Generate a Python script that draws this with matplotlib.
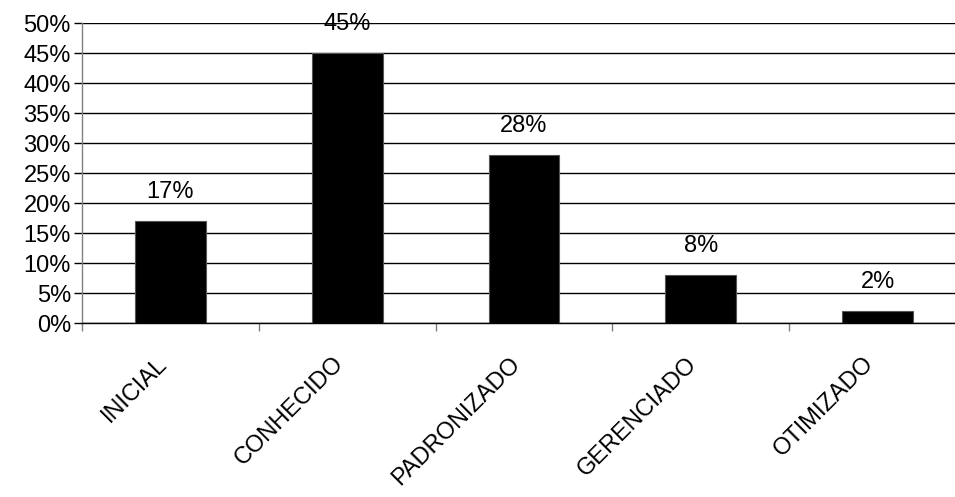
import matplotlib
matplotlib.use("Agg")
import matplotlib.pyplot as plt
from matplotlib.ticker import MultipleLocator, FuncFormatter

categories = ["INICIAL", "CONHECIDO", "PADRONIZADO", "GERENCIADO", "OTIMIZADO"]
values = [17, 45, 28, 8, 2]
value_labels = ["17%", "45%", "28%", "8%", "2%"]

plt.rcParams['font.family'] = ['Liberation Sans', 'DejaVu Sans']

W, H = 955, 497
fig = plt.figure(figsize=(W / 100, H / 100), dpi=100)
ax = fig.add_axes([82 / W, 174 / H, (955 - 82) / W, 300 / H])

x = list(range(len(categories)))
ax.bar(x, values, width=0.4, color='black', edgecolor='#555555', linewidth=0.8, zorder=3)

ax.yaxis.set_major_locator(MultipleLocator(5))
ax.yaxis.set_major_formatter(FuncFormatter(lambda v, p: f"{int(round(v))}%"))
ax.yaxis.grid(True, color='black', linewidth=1.0, zorder=0)
ax.set_axisbelow(True)

for s in ['top', 'right']:
    ax.spines[s].set_visible(False)
ax.spines['bottom'].set_color('black')
ax.spines['bottom'].set_linewidth(1.0)
ax.spines['left'].set_color('#808080')
ax.spines['left'].set_linewidth(1.0)

ax.tick_params(axis='y', length=6, width=1.0, color='black', labelsize=17, pad=2)
ax.set_xticks([i - 0.5 for i in range(len(categories))])
ax.set_xticklabels([])
ax.tick_params(axis='x', length=6, width=1.0, color='#808080')

ax.set_ylim(0, 50)
ax.set_xlim(-0.5, (955 - 82) / 176.8 - 0.5)

for xi, v, lab in zip(x, values, value_labels):
    ax.annotate(lab, (xi, v), xytext=(0, 13), textcoords='offset points',
                ha='center', va='bottom', fontsize=17)

for xi, cat in zip(x, categories):
    ax.annotate(cat, (xi, 0), xycoords=('data', 'axes fraction'),
                xytext=(-5, -27), textcoords='offset points',
                ha='right', va='center', rotation=45, rotation_mode='anchor',
                fontsize=17)

fig.savefig("out.png", dpi=100)
